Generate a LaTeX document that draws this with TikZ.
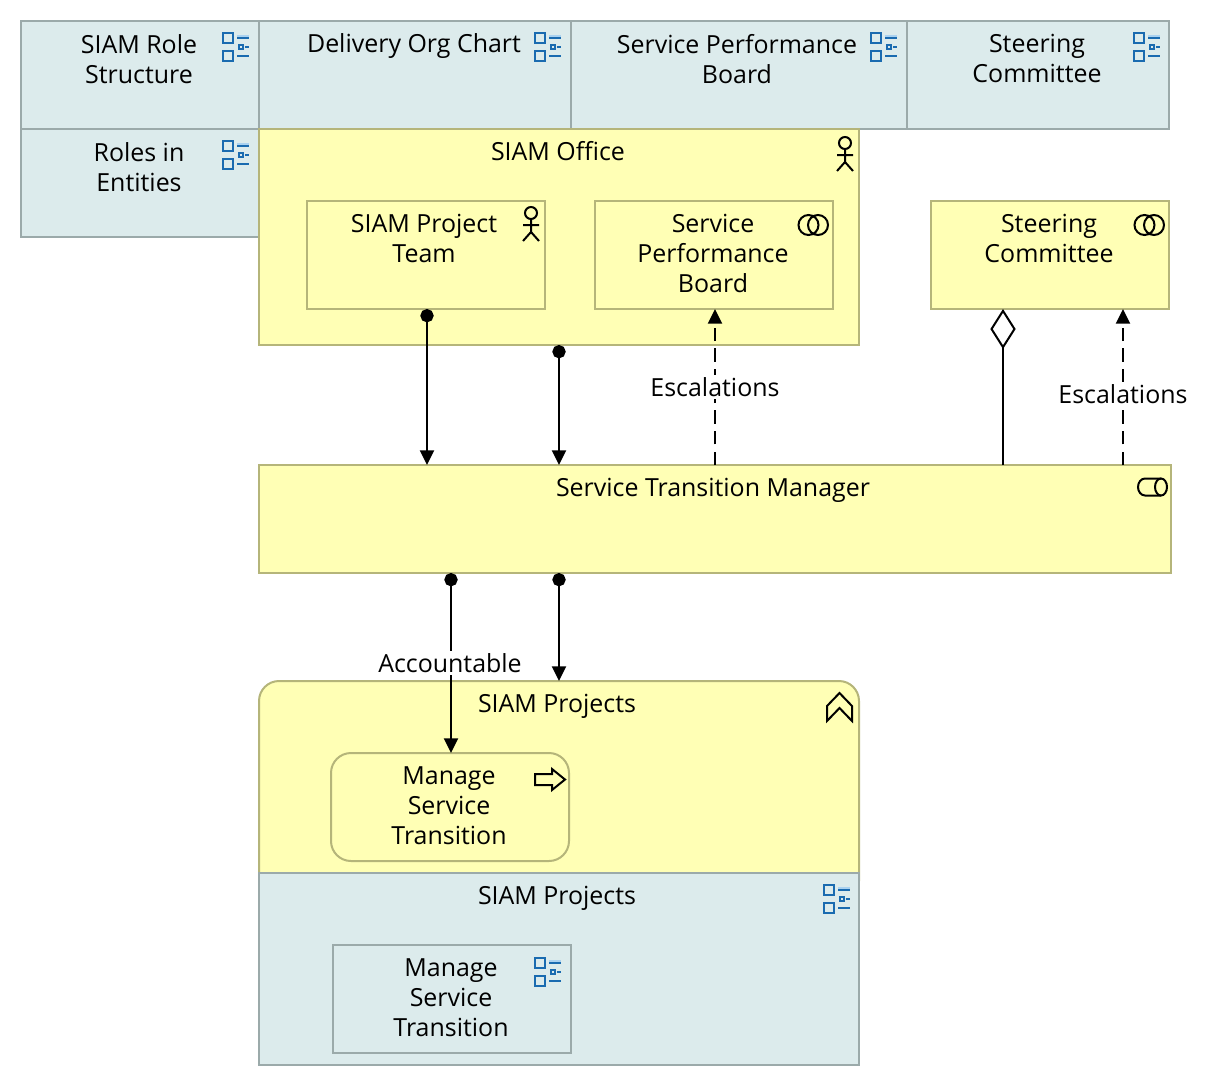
\documentclass[tikz,border=0pt]{standalone}
\usepackage{fontspec}
\setmainfont{Open Sans}
\usetikzlibrary{arrows.meta}
\definecolor{elemyellow}{RGB}{255,255,181}
\definecolor{edgeyellow}{RGB}{181,181,122}
\definecolor{elemblue}{RGB}{220,235,236}
\definecolor{edgeblue}{RGB}{155,170,170}
\definecolor{iconblue}{RGB}{26,107,176}
\definecolor{iconlight}{RGB}{170,210,240}
\tikzset{
    yellowbox/.style={rectangle,draw=edgeyellow,fill=elemyellow,line width=1.5pt,anchor=north west,inner sep=0pt,outer sep=0pt},
    bluebox/.style={rectangle,draw=edgeblue,fill=elemblue,line width=1.5pt,anchor=north west,inner sep=0pt,outer sep=0pt},
    title/.style={anchor=north,inner sep=0pt,align=center,font=\fontsize{18.7}{22.5}\selectfont,execute at begin node=\strut},
    edgelabel/.style={fill=white,inner sep=2pt,font=\fontsize{18.7}{22.5}\selectfont},
    dotlink/.style={line width=1.5pt,{Circle[length=10pt,width=10pt]}-{Triangle[length=11pt,width=10.5pt]}},
    dashlink/.style={line width=1.5pt,dash pattern=on 10pt off 5.5pt,-{Triangle[length=11pt,width=10.5pt]}},
    every pic/.style={yscale=-1},
    pics/modelicon/.style={code={
        \draw[iconlight,line width=1.5pt] (15,4) -- (27,4);
        \draw[iconblue,line width=1.5pt] (1,1) rectangle (11,11) (1,19) rectangle (11,29) (15,6) -- (27,6) (15,24) -- (27,24) (17,13) rectangle (21,17) (23,15) -- (27,15);
    }},
    pics/actoricon/.style={code={
        \draw[line width=1.5pt] (0,6) circle (6) (0,12) -- (0,25) (-8,18) -- (8,18) (-8,34) -- (0,25) -- (8,34);
    }},
    pics/collabicon/.style={code={
        \draw[line width=1.5pt] (0,0) circle (10) (9.5,0) circle (10);
    }}
}
\begin{document}
\begin{tikzpicture}[x=0.75pt,y=0.75pt,yscale=-1,xscale=1]
\useasboundingbox (0,0) rectangle (1228,1086);

% views along the top
\node (rolestruct) [bluebox,minimum width=178.5pt,minimum height=81pt] at (21,21) {};
\node (orgchart) [bluebox,minimum width=234pt,minimum height=81pt] at (259,21) {};
\node (perfview) [bluebox,minimum width=252pt,minimum height=81pt] at (571,21) {};
\node (steerview) [bluebox,minimum width=196.5pt,minimum height=81pt] at (907,21) {};
\node (entities) [bluebox,minimum width=178.5pt,minimum height=81pt] at (21,129) {};

% actors and collaborations
\node (office) [yellowbox,minimum width=450pt,minimum height=162pt] at (259,129) {};
\node (team) [yellowbox,minimum width=178.5pt,minimum height=81pt] at (307,201) {};
\node (board) [yellowbox,minimum width=178.5pt,minimum height=81pt] at (595,201) {};
\node (steering) [yellowbox,minimum width=178.5pt,minimum height=81pt] at (931,201) {};
\node (manager) [yellowbox,minimum width=684pt,minimum height=81pt] at (259,465) {};

% projects
\node (projects) [yellowbox,rounded corners=15pt,minimum width=450pt,minimum height=165pt] at (259,681) {};
\node (projview) [bluebox,minimum width=450pt,minimum height=144pt] at (259,873) {};
\node (process) [yellowbox,rounded corners=15pt,minimum width=178.5pt,minimum height=81pt] at (331,753) {};
\node (procview) [bluebox,minimum width=178.5pt,minimum height=81pt] at (333,945) {};

% texts
\node (t1) [title] at (139,34) {SIAM Role\\Structure};
\node (t2) [title] at (414,31.5) {Delivery Org Chart};
\node (t3) [title] at (737,34) {Service Performance\\Board};
\node (t4) [title] at (1037,34) {Steering\\Committee};
\node (t5) [title] at (139,142) {Roles in\\Entities};
\node (t6) [title] at (558,139.5) {SIAM Office};
\node (t7) [title] at (424,214) {SIAM Project\\Team};
\node (t8) [title] at (713,214) {Service\\Performance\\Board};
\node (t9) [title] at (1049,214) {Steering\\Committee};
\node (t10) [title] at (713,475) {Service Transition Manager};
\node (t11) [title] at (557,691) {SIAM Projects};
\node (t12) [title] at (449,766) {Manage\\Service\\Transition};
\node (t13) [title] at (557,883) {SIAM Projects};
\node (t14) [title] at (451,958) {Manage\\Service\\Transition};

% icons
\foreach \ix/\iy in {222/32,534/32,870/32,1133/32,222/140,823/884,534/957}
    \pic at (\ix,\iy) {modelicon};
\pic at (845,137) {actoricon};
\pic at (531,207) {actoricon};
\pic at (808.5,225) {collabicon};
\pic at (1144.5,225) {collabicon};
\draw[line width=1.5pt] (1161,478.5) -- (1145,478.5) arc[start angle=270,end angle=90,x radius=7,y radius=8.5] -- (1161,495.5);
\draw[line width=1.5pt] (1161,487) ellipse (6 and 8.5);
\draw[line width=1.5pt,fill=elemyellow] (827,706) -- (839.5,693) -- (852,706) -- (852,721) -- (839.5,708) -- (827,721) -- cycle;
\draw[line width=1.5pt] (535,774) -- (552,774) -- (552,769) -- (565,779.5) -- (552,790) -- (552,785) -- (535,785) -- cycle;

% connectors
\draw[dotlink] (427,0 |- team.south) -- (427,0 |- manager.north);
\draw[dotlink] (office.south) -- (office.south |- manager.north);
\draw[dashlink] (715,0 |- manager.north) -- node (lab1) [edgelabel,pos=0.5] {Escalations} (715,0 |- board.south);
\draw[line width=1.5pt,-{Diamond[open,fill=white,length=30pt,width=19pt]}] (1003,0 |- manager.north) -- (1003,0 |- steering.south);
\draw[dashlink] (1123,0 |- manager.north) -- node (lab2) [edgelabel,pos=0.455] {Escalations} (1123,0 |- steering.south);
\draw[dotlink] (451,0 |- manager.south) -- node (lab3) [edgelabel,pos=0.5,xshift=-0.75pt] {Accountable} (451,0 |- process.north);
\draw[dotlink] (559,0 |- manager.south) -- (559,0 |- projects.north);

\end{tikzpicture}
\end{document}
